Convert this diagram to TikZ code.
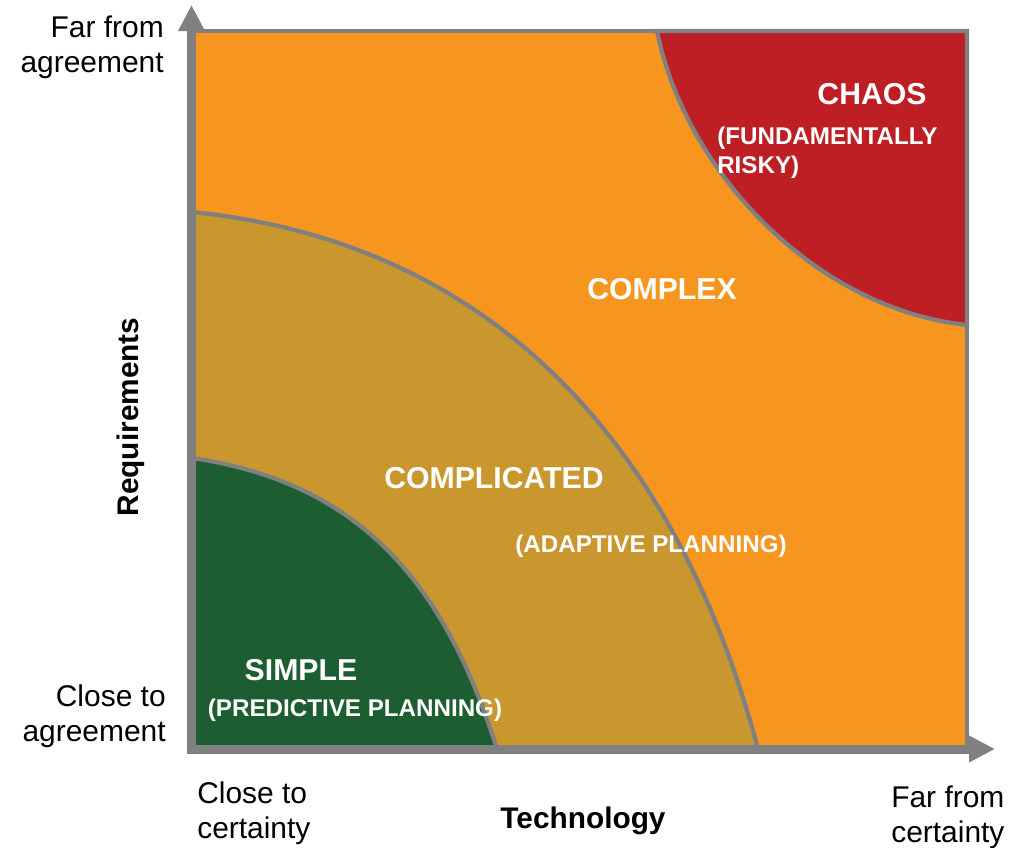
\documentclass[tikz,border=0pt]{standalone}
\usepackage{fontspec}
\setmainfont{Liberation Sans}
\usetikzlibrary{arrows.meta,positioning}
\definecolor{orangeC}{HTML}{F7961F}
\definecolor{chaosR}{HTML}{BD1F25}
\definecolor{goldC}{HTML}{C9972E}
\definecolor{greenS}{HTML}{1C5E32}
\definecolor{grisA}{HTML}{808080}
\tikzset{
  zone/.style={font=\bfseries\fontsize{21.5}{25}\selectfont, text=white, inner sep=0pt},
  sous/.style={font=\bfseries\fontsize{17.2}{20.5}\selectfont, text=white, inner sep=0pt, align=left},
  note/.style={font=\fontsize{21.3}{24.6}\selectfont, inner sep=0pt},
  titre/.style={font=\bfseries\fontsize{21.2}{25}\selectfont, inner sep=0pt},
  bord/.style={draw=grisA, line width=3pt},
  axe/.style={draw=grisA, line width=6.4pt, line cap=rect, -{Triangle[length=18.5pt,width=17.8pt]}},
}

\begin{document}
\begin{tikzpicture}[x=0.25mm, y=-0.25mm]
    \useasboundingbox (0,0) rectangle (1027,848);
    % zones
    \fill[orangeC] (192,31) rectangle (967,749);
    \filldraw[fill=chaosR, bord] (657,31) .. controls (685,171) and (815,309) .. (967,325) -- (967,31) -- cycle;
    \filldraw[fill=goldC, bord] (192,212) .. controls (502,243) and (680,456) .. (758,749) -- (192,749) -- cycle;
    \filldraw[fill=greenS, bord] (192,458) .. controls (356,482) and (443,578) .. (497,749) -- (192,749) -- cycle;
    \draw[grisA, line width=3.5pt] (192,31) -- (967,31) -- (967,749);
    % axes
    \coordinate (o) at (191.5,749);
    \coordinate (ytip) at (191.5,5);
    \coordinate (xtip) at (995,749);
    \draw[axe] (o) -- (ytip);
    \draw[axe] (o) -- (xtip);
    % zone labels
    \node[zone] (chaos) at (872,94) {CHAOS};
    \node[sous, anchor=west] (risky) at (717,153) {(FUNDAMENTALLY\\RISKY)};
    \node[zone] (complex) at (662,289) {COMPLEX};
    \node[zone] (compl) at (494,478) {COMPLICATED};
    \node[sous] (adapt) at (651,546) {(ADAPTIVE PLANNING)};
    \node[zone] (simple) at (301,670) {SIMPLE};
    \node[sous] (pred) at (355,710) {(PREDICTIVE PLANNING)};
    % axis labels
    \node[note, align=right, anchor=east] (farA) at (164,47) {Far from\\agreement};
    \node[note, align=right, anchor=east] (closeA) at (166,716) {Close to\\agreement};
    \node[note, align=left, anchor=west] (closeC) at (197,813) {Close to\\certainty};
    \node[note, align=left, anchor=west] (farC) at (891,817) {Far from\\certainty};
    \node[titre, rotate=90] (req) at (131,417) {Requirements};
    \node[titre] (tech) at (583,821) {Technology};
\end{tikzpicture}
\end{document}
